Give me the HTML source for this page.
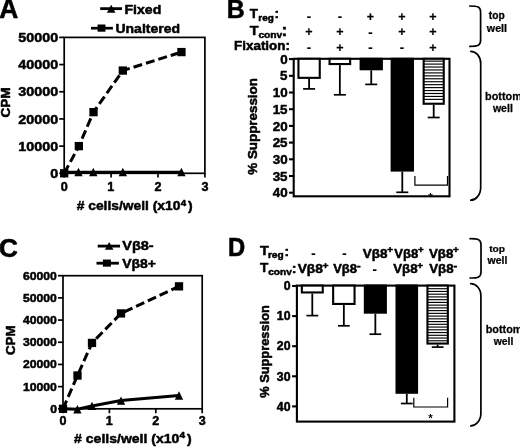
<!DOCTYPE html>
<html><head><meta charset="utf-8"><title>Figure</title>
<style>html,body{margin:0;padding:0;background:#fff;overflow:hidden}svg{display:block}text{font-family:'Liberation Sans', sans-serif;font-weight:bold;fill:#000;stroke-linejoin:round;font-kerning:none}</style>
</head><body>
<svg width="520" height="447" viewBox="0 0 520 447">
<rect width="520" height="447" fill="#fff"/>
<text transform="translate(-0.76,18.20) scale(0.965,1)" font-size="27.33" stroke="#000" stroke-width="0.6">A</text>
<text transform="translate(226.83,18.40) scale(0.958,1)" font-size="26.02" stroke="#000" stroke-width="0.5">B</text>
<text transform="translate(-1.07,256.55) scale(1.023,1)" font-size="25.56" stroke="#000" stroke-width="0.6">C</text>
<text transform="translate(228.01,256.40) scale(0.936,1)" font-size="25.44" stroke="#000" stroke-width="0.6">D</text>
<rect x="64.2" y="37.4" width="140.7" height="135.9" fill="none" stroke="#000" stroke-width="1.7"/>
<line x1="59.2" y1="173.3" x2="64.2" y2="173.3" stroke="#000" stroke-width="1.7" />
<text transform="translate(50.30,177.88) scale(1.080,1)" font-size="13.30" stroke="#000" stroke-width="0.5">0</text>
<line x1="59.2" y1="146.12" x2="64.2" y2="146.12" stroke="#000" stroke-width="1.7" />
<text transform="translate(18.35,150.70) scale(1.080,1)" font-size="13.30" stroke="#000" stroke-width="0.5">10000</text>
<line x1="59.2" y1="118.94000000000001" x2="64.2" y2="118.94000000000001" stroke="#000" stroke-width="1.7" />
<text transform="translate(18.35,123.52) scale(1.080,1)" font-size="13.30" stroke="#000" stroke-width="0.5">20000</text>
<line x1="59.2" y1="91.76" x2="64.2" y2="91.76" stroke="#000" stroke-width="1.7" />
<text transform="translate(18.35,96.33) scale(1.080,1)" font-size="13.30" stroke="#000" stroke-width="0.5">30000</text>
<line x1="59.2" y1="64.58000000000001" x2="64.2" y2="64.58000000000001" stroke="#000" stroke-width="1.7" />
<text transform="translate(18.35,69.16) scale(1.080,1)" font-size="13.30" stroke="#000" stroke-width="0.5">40000</text>
<line x1="59.2" y1="37.400000000000006" x2="64.2" y2="37.400000000000006" stroke="#000" stroke-width="1.7" />
<text transform="translate(18.35,41.98) scale(1.080,1)" font-size="13.30" stroke="#000" stroke-width="0.5">50000</text>
<line x1="64.2" y1="173.3" x2="64.2" y2="177.5" stroke="#000" stroke-width="1.7" />
<text transform="translate(60.71,190.54) scale(1.000,1)" font-size="12.60" stroke="#000" stroke-width="0.5">0</text>
<line x1="111.1" y1="173.3" x2="111.1" y2="177.5" stroke="#000" stroke-width="1.7" />
<text transform="translate(107.37,190.53) scale(1.000,1)" font-size="12.60" stroke="#000" stroke-width="0.5">1</text>
<line x1="158.0" y1="173.3" x2="158.0" y2="177.5" stroke="#000" stroke-width="1.7" />
<text transform="translate(154.53,190.60) scale(1.000,1)" font-size="12.60" stroke="#000" stroke-width="0.5">2</text>
<line x1="204.89999999999998" y1="173.3" x2="204.89999999999998" y2="177.5" stroke="#000" stroke-width="1.7" />
<text transform="translate(201.48,190.53) scale(1.000,1)" font-size="12.60" stroke="#000" stroke-width="0.5">3</text>
<polyline points="64.2,173.3 78.9,146.1 93.5,112.1 122.8,70.6 181.4,52.1" fill="none" stroke="#000" stroke-width="3.0" stroke-dasharray="9 4" stroke-dashoffset="0"/>
<polyline points="64.2,172.3 78.5,172.3 93.3,172.3 122.8,172.3 181.4,172.3" fill="none" stroke="#000" stroke-width="3.0"/>
<rect x="60.05" y="169.15" width="8.3" height="8.3" fill="#000"/>
<rect x="74.71" y="141.97" width="8.3" height="8.3" fill="#000"/>
<rect x="89.36" y="108.00" width="8.3" height="8.3" fill="#000"/>
<rect x="118.67" y="66.41" width="8.3" height="8.3" fill="#000"/>
<rect x="177.30" y="47.93" width="8.3" height="8.3" fill="#000"/>
<polygon points="78.50450000000001,167.84 74.3045,176.14 82.70450000000001,176.14" fill="#000"/>
<polygon points="93.278,167.84 89.078,176.14 97.47800000000001,176.14" fill="#000"/>
<polygon points="122.825,167.84 118.625,176.14 127.025,176.14" fill="#000"/>
<polygon points="181.45,167.84 177.25,176.14 185.64999999999998,176.14" fill="#000"/>
<line x1="100.2" y1="8.65" x2="122" y2="8.65" stroke="#000" stroke-width="2.8" />
<polygon points="111.2,4.80 106.9,12.70 115.5,12.70" fill="#000"/>
<text transform="translate(124.46,13.67) scale(1.080,1)" font-size="13.07" stroke="#000" stroke-width="0.5">Fixed</text>
<line x1="91" y1="28.2" x2="112.9" y2="28.2" stroke="#000" stroke-width="2.7" />
<rect x="97.55" y="24.50" width="7.9" height="7.2" fill="#000"/>
<text transform="translate(115.46,32.98) scale(1.095,1)" font-size="12.80" stroke="#000" stroke-width="0.5">Unaltered</text>
<text transform="translate(9.58,117.56) rotate(-90) scale(1.118,1)" font-size="12.15" stroke="#000" stroke-width="0.5">CPM</text>
<text transform="scale(1.027,1)" stroke="#000" stroke-width="0.5"><tspan x="74.72" y="210.51" font-size="13.46"># cells/well (x10</tspan><tspan x="175.95" y="205.70" font-size="9.45">4</tspan><tspan x="183.18" y="210.51" font-size="13.46">)</tspan></text>
<rect x="63.0" y="275.7" width="139.2" height="133.10000000000002" fill="none" stroke="#000" stroke-width="1.7"/>
<line x1="58.0" y1="408.8" x2="63.0" y2="408.8" stroke="#000" stroke-width="1.7" />
<text transform="translate(50.13,412.83) scale(1.040,1)" font-size="11.70" stroke="#000" stroke-width="0.5">0</text>
<line x1="58.0" y1="386.6166666666667" x2="63.0" y2="386.6166666666667" stroke="#000" stroke-width="1.7" />
<text transform="translate(23.06,390.64) scale(1.040,1)" font-size="11.70" stroke="#000" stroke-width="0.5">10000</text>
<line x1="58.0" y1="364.43333333333334" x2="63.0" y2="364.43333333333334" stroke="#000" stroke-width="1.7" />
<text transform="translate(23.06,368.46) scale(1.040,1)" font-size="11.70" stroke="#000" stroke-width="0.5">20000</text>
<line x1="58.0" y1="342.25" x2="63.0" y2="342.25" stroke="#000" stroke-width="1.7" />
<text transform="translate(23.06,346.27) scale(1.040,1)" font-size="11.70" stroke="#000" stroke-width="0.5">30000</text>
<line x1="58.0" y1="320.06666666666666" x2="63.0" y2="320.06666666666666" stroke="#000" stroke-width="1.7" />
<text transform="translate(23.06,324.09) scale(1.040,1)" font-size="11.70" stroke="#000" stroke-width="0.5">40000</text>
<line x1="58.0" y1="297.8833333333333" x2="63.0" y2="297.8833333333333" stroke="#000" stroke-width="1.7" />
<text transform="translate(23.06,301.91) scale(1.040,1)" font-size="11.70" stroke="#000" stroke-width="0.5">50000</text>
<line x1="58.0" y1="275.7" x2="63.0" y2="275.7" stroke="#000" stroke-width="1.7" />
<text transform="translate(23.06,279.73) scale(1.040,1)" font-size="11.70" stroke="#000" stroke-width="0.5">60000</text>
<line x1="63.0" y1="408.8" x2="63.0" y2="413.3" stroke="#000" stroke-width="1.7" />
<text transform="translate(59.53,424.90) scale(1.000,1)" font-size="12.50" stroke="#000" stroke-width="0.5">0</text>
<line x1="109.4" y1="408.8" x2="109.4" y2="413.3" stroke="#000" stroke-width="1.7" />
<text transform="translate(105.70,424.90) scale(1.000,1)" font-size="12.50" stroke="#000" stroke-width="0.5">1</text>
<line x1="155.8" y1="408.8" x2="155.8" y2="413.3" stroke="#000" stroke-width="1.7" />
<text transform="translate(152.36,424.96) scale(1.000,1)" font-size="12.50" stroke="#000" stroke-width="0.5">2</text>
<line x1="202.2" y1="408.8" x2="202.2" y2="413.3" stroke="#000" stroke-width="1.7" />
<text transform="translate(198.81,424.89) scale(1.000,1)" font-size="12.50" stroke="#000" stroke-width="0.5">3</text>
<polyline points="63.0,408.8 77.5,375.5 92.0,342.9 121.0,313.4 179.0,286.3" fill="none" stroke="#000" stroke-width="3.0" stroke-dasharray="9 4" stroke-dashoffset="0"/>
<polyline points="63.0,408.8 77.4,409.2 92.0,405.9 121.0,400.6 179.0,395.5" fill="none" stroke="#000" stroke-width="3.0"/>
<rect x="58.85" y="404.65" width="8.3" height="8.3" fill="#000"/>
<rect x="73.35" y="371.38" width="8.3" height="8.3" fill="#000"/>
<rect x="87.85" y="338.77" width="8.3" height="8.3" fill="#000"/>
<rect x="116.85" y="309.26" width="8.3" height="8.3" fill="#000"/>
<rect x="174.85" y="282.20" width="8.3" height="8.3" fill="#000"/>
<polygon points="77.384,405.09 73.184,413.39 81.584,413.39" fill="#000"/>
<polygon points="92.0,401.77 87.8,410.07 96.2,410.07" fill="#000"/>
<polygon points="121.0,396.44 116.8,404.74 125.2,404.74" fill="#000"/>
<polygon points="179.0,391.34 174.8,399.64 183.2,399.64" fill="#000"/>
<line x1="97.7" y1="246.1" x2="120" y2="246.1" stroke="#000" stroke-width="2.8" />
<polygon points="109.2,242.10 104.9,249.70 113.5,249.70" fill="#000"/>
<text transform="translate(122.20,250.23) scale(1.129,1)" font-size="12.87" stroke="#000" stroke-width="0.5">Vβ8-</text>
<line x1="96.5" y1="263.2" x2="118.9" y2="263.2" stroke="#000" stroke-width="2.8" />
<rect x="102.90" y="259.55" width="8" height="7.1" fill="#000"/>
<text transform="translate(122.20,267.58) scale(1.067,1)" font-size="13.09" stroke="#000" stroke-width="0.5">Vβ8+</text>
<text transform="translate(14.98,355.05) rotate(-90) scale(1.085,1)" font-size="12.29" stroke="#000" stroke-width="0.5">CPM</text>
<text transform="scale(1.064,1)" stroke="#000" stroke-width="0.5"><tspan x="69.67" y="442.56" font-size="13.20"># cells/well (x10</tspan><tspan x="168.77" y="438.00" font-size="9.45">4</tspan><tspan x="175.85" y="442.56" font-size="13.20">)</tspan></text>
<rect x="293.7" y="58.8" width="155.8" height="137.5" fill="none" stroke="#000" stroke-width="2.1"/>
<line x1="289.0" y1="59.1" x2="293.7" y2="59.1" stroke="#000" stroke-width="2.1" />
<text transform="translate(280.30,63.71) scale(1.000,1)" font-size="13.40" stroke="#000" stroke-width="0.5">0</text>
<line x1="289.0" y1="75.8" x2="293.7" y2="75.8" stroke="#000" stroke-width="2.1" />
<text transform="translate(280.12,80.34) scale(1.000,1)" font-size="13.40" stroke="#000" stroke-width="0.5">5</text>
<line x1="289.0" y1="92.5" x2="293.7" y2="92.5" stroke="#000" stroke-width="2.1" />
<text transform="translate(272.84,97.11) scale(1.000,1)" font-size="13.40" stroke="#000" stroke-width="0.5">10</text>
<line x1="289.0" y1="109.19999999999999" x2="293.7" y2="109.19999999999999" stroke="#000" stroke-width="2.1" />
<text transform="translate(272.67,113.74) scale(1.000,1)" font-size="13.40" stroke="#000" stroke-width="0.5">15</text>
<line x1="289.0" y1="125.9" x2="293.7" y2="125.9" stroke="#000" stroke-width="2.1" />
<text transform="translate(272.84,130.51) scale(1.000,1)" font-size="13.40" stroke="#000" stroke-width="0.5">20</text>
<line x1="289.0" y1="142.6" x2="293.7" y2="142.6" stroke="#000" stroke-width="2.1" />
<text transform="translate(272.67,147.21) scale(1.000,1)" font-size="13.40" stroke="#000" stroke-width="0.5">25</text>
<line x1="289.0" y1="159.29999999999998" x2="293.7" y2="159.29999999999998" stroke="#000" stroke-width="2.1" />
<text transform="translate(272.84,163.90) scale(1.000,1)" font-size="13.40" stroke="#000" stroke-width="0.5">30</text>
<line x1="289.0" y1="176.0" x2="293.7" y2="176.0" stroke="#000" stroke-width="2.1" />
<text transform="translate(272.67,180.60) scale(1.000,1)" font-size="13.40" stroke="#000" stroke-width="0.5">35</text>
<line x1="289.0" y1="192.7" x2="293.7" y2="192.7" stroke="#000" stroke-width="2.1" />
<text transform="translate(272.84,197.31) scale(1.000,1)" font-size="13.40" stroke="#000" stroke-width="0.5">40</text>
<line x1="309.1" y1="78.9" x2="309.1" y2="88.9" stroke="#000" stroke-width="1.8" />
<line x1="303.1" y1="88.9" x2="315.1" y2="88.9" stroke="#000" stroke-width="1.7" />
<rect x="298.45" y="58.8" width="21.30" height="19.05" fill="#fff" stroke="#000" stroke-width="2.1"/>
<line x1="339.85" y1="65.1" x2="339.85" y2="94.8" stroke="#000" stroke-width="1.8" />
<line x1="333.85" y1="94.8" x2="345.85" y2="94.8" stroke="#000" stroke-width="1.7" />
<rect x="329.55" y="58.8" width="20.60" height="5.25" fill="#fff" stroke="#000" stroke-width="2.1"/>
<line x1="371.25" y1="70.3" x2="371.25" y2="84.4" stroke="#000" stroke-width="1.8" />
<line x1="365.25" y1="84.4" x2="377.25" y2="84.4" stroke="#000" stroke-width="1.7" />
<rect x="360.65" y="58.8" width="21.20" height="10.45" fill="#000" stroke="#000" stroke-width="2.1"/>
<line x1="402.3" y1="171.6" x2="402.3" y2="192.3" stroke="#000" stroke-width="1.8" />
<line x1="396.3" y1="192.3" x2="408.3" y2="192.3" stroke="#000" stroke-width="1.7" />
<rect x="391.65" y="58.8" width="21.30" height="111.75" fill="#000" stroke="#000" stroke-width="2.1"/>
<line x1="433.70000000000005" y1="104.8" x2="433.70000000000005" y2="117.5" stroke="#000" stroke-width="1.8" />
<line x1="427.70000000000005" y1="117.5" x2="439.70000000000005" y2="117.5" stroke="#000" stroke-width="1.7" />
<rect x="423.65" y="58.8" width="20.10" height="44.95" fill="#fff" stroke="#000" stroke-width="2.1"/>
<line x1="423.65000000000003" y1="61.15" x2="443.75" y2="61.15" stroke="#000" stroke-width="1.15" />
<line x1="423.65000000000003" y1="64.09" x2="443.75" y2="64.09" stroke="#000" stroke-width="1.15" />
<line x1="423.65000000000003" y1="67.03" x2="443.75" y2="67.03" stroke="#000" stroke-width="1.15" />
<line x1="423.65000000000003" y1="69.97" x2="443.75" y2="69.97" stroke="#000" stroke-width="1.15" />
<line x1="423.65000000000003" y1="72.91" x2="443.75" y2="72.91" stroke="#000" stroke-width="1.15" />
<line x1="423.65000000000003" y1="75.85" x2="443.75" y2="75.85" stroke="#000" stroke-width="1.15" />
<line x1="423.65000000000003" y1="78.79" x2="443.75" y2="78.79" stroke="#000" stroke-width="1.15" />
<line x1="423.65000000000003" y1="81.73" x2="443.75" y2="81.73" stroke="#000" stroke-width="1.15" />
<line x1="423.65000000000003" y1="84.67" x2="443.75" y2="84.67" stroke="#000" stroke-width="1.15" />
<line x1="423.65000000000003" y1="87.61" x2="443.75" y2="87.61" stroke="#000" stroke-width="1.15" />
<line x1="423.65000000000003" y1="90.55" x2="443.75" y2="90.55" stroke="#000" stroke-width="1.15" />
<line x1="423.65000000000003" y1="93.49" x2="443.75" y2="93.49" stroke="#000" stroke-width="1.15" />
<line x1="423.65000000000003" y1="96.43" x2="443.75" y2="96.43" stroke="#000" stroke-width="1.15" />
<line x1="423.65000000000003" y1="99.37" x2="443.75" y2="99.37" stroke="#000" stroke-width="1.15" />
<polyline points="414.9,176 414.9,185.1 447.5,185.1 447.5,176" fill="none" stroke="#000" stroke-width="1.2"/>
<text transform="translate(428.35,200.57) scale(1.000,1)" font-size="11.50" stroke="#000" stroke-width="0">*</text>
<text transform="translate(257.21,174.73) rotate(-90) scale(1.032,1)" font-size="12.98" stroke="#000" stroke-width="0.5">% Suppression</text>
<rect x="296.9" y="285.6" width="157.5" height="136.0" fill="none" stroke="#000" stroke-width="2.1"/>
<line x1="292.09999999999997" y1="286.0" x2="296.9" y2="286.0" stroke="#000" stroke-width="2.1" />
<text transform="translate(283.66,290.23) scale(1.000,1)" font-size="12.30" stroke="#000" stroke-width="0.5">0</text>
<line x1="292.09999999999997" y1="316.1" x2="296.9" y2="316.1" stroke="#000" stroke-width="2.1" />
<text transform="translate(276.82,320.33) scale(1.000,1)" font-size="12.30" stroke="#000" stroke-width="0.5">10</text>
<line x1="292.09999999999997" y1="346.2" x2="296.9" y2="346.2" stroke="#000" stroke-width="2.1" />
<text transform="translate(276.82,350.43) scale(1.000,1)" font-size="12.30" stroke="#000" stroke-width="0.5">20</text>
<line x1="292.09999999999997" y1="376.3" x2="296.9" y2="376.3" stroke="#000" stroke-width="2.1" />
<text transform="translate(276.82,380.53) scale(1.000,1)" font-size="12.30" stroke="#000" stroke-width="0.5">30</text>
<line x1="292.09999999999997" y1="406.4" x2="296.9" y2="406.4" stroke="#000" stroke-width="2.1" />
<text transform="translate(276.82,410.63) scale(1.000,1)" font-size="12.30" stroke="#000" stroke-width="0.5">40</text>
<line x1="312.3" y1="293.5" x2="312.3" y2="315.6" stroke="#000" stroke-width="1.8" />
<line x1="306.40000000000003" y1="315.6" x2="318.2" y2="315.6" stroke="#000" stroke-width="1.7" />
<rect x="301.85" y="285.6" width="20.90" height="6.85" fill="#fff" stroke="#000" stroke-width="2.1"/>
<line x1="343.85" y1="305.0" x2="343.85" y2="325.8" stroke="#000" stroke-width="1.8" />
<line x1="337.95000000000005" y1="325.8" x2="349.75" y2="325.8" stroke="#000" stroke-width="1.7" />
<rect x="333.15" y="285.6" width="21.40" height="18.35" fill="#fff" stroke="#000" stroke-width="2.1"/>
<line x1="375.35" y1="313.7" x2="375.35" y2="334.2" stroke="#000" stroke-width="1.8" />
<line x1="369.45000000000005" y1="334.2" x2="381.25" y2="334.2" stroke="#000" stroke-width="1.7" />
<rect x="364.85" y="285.6" width="21.00" height="27.05" fill="#000" stroke="#000" stroke-width="2.1"/>
<line x1="406.8" y1="393.8" x2="406.8" y2="403.5" stroke="#000" stroke-width="1.8" />
<line x1="400.90000000000003" y1="403.5" x2="412.7" y2="403.5" stroke="#000" stroke-width="1.7" />
<rect x="396.55" y="285.6" width="20.50" height="107.15" fill="#000" stroke="#000" stroke-width="2.1"/>
<line x1="437.65" y1="344.6" x2="437.65" y2="347.1" stroke="#000" stroke-width="1.8" />
<line x1="431.75" y1="347.1" x2="443.54999999999995" y2="347.1" stroke="#000" stroke-width="1.7" />
<rect x="427.45" y="285.6" width="20.40" height="57.95" fill="#fff" stroke="#000" stroke-width="2.1"/>
<line x1="427.45" y1="288.7" x2="447.84999999999997" y2="288.7" stroke="#000" stroke-width="1.15" />
<line x1="427.45" y1="291.44" x2="447.84999999999997" y2="291.44" stroke="#000" stroke-width="1.15" />
<line x1="427.45" y1="294.18" x2="447.84999999999997" y2="294.18" stroke="#000" stroke-width="1.15" />
<line x1="427.45" y1="296.92" x2="447.84999999999997" y2="296.92" stroke="#000" stroke-width="1.15" />
<line x1="427.45" y1="299.66" x2="447.84999999999997" y2="299.66" stroke="#000" stroke-width="1.15" />
<line x1="427.45" y1="302.4" x2="447.84999999999997" y2="302.4" stroke="#000" stroke-width="1.15" />
<line x1="427.45" y1="305.14" x2="447.84999999999997" y2="305.14" stroke="#000" stroke-width="1.15" />
<line x1="427.45" y1="307.88" x2="447.84999999999997" y2="307.88" stroke="#000" stroke-width="1.15" />
<line x1="427.45" y1="310.62" x2="447.84999999999997" y2="310.62" stroke="#000" stroke-width="1.15" />
<line x1="427.45" y1="313.36" x2="447.84999999999997" y2="313.36" stroke="#000" stroke-width="1.15" />
<line x1="427.45" y1="316.1" x2="447.84999999999997" y2="316.1" stroke="#000" stroke-width="1.15" />
<line x1="427.45" y1="318.84" x2="447.84999999999997" y2="318.84" stroke="#000" stroke-width="1.15" />
<line x1="427.45" y1="321.58" x2="447.84999999999997" y2="321.58" stroke="#000" stroke-width="1.15" />
<line x1="427.45" y1="324.32" x2="447.84999999999997" y2="324.32" stroke="#000" stroke-width="1.15" />
<line x1="427.45" y1="327.06" x2="447.84999999999997" y2="327.06" stroke="#000" stroke-width="1.15" />
<line x1="427.45" y1="329.8" x2="447.84999999999997" y2="329.8" stroke="#000" stroke-width="1.15" />
<line x1="427.45" y1="332.54" x2="447.84999999999997" y2="332.54" stroke="#000" stroke-width="1.15" />
<line x1="427.45" y1="335.28" x2="447.84999999999997" y2="335.28" stroke="#000" stroke-width="1.15" />
<line x1="427.45" y1="338.02" x2="447.84999999999997" y2="338.02" stroke="#000" stroke-width="1.15" />
<line x1="427.45" y1="340.76" x2="447.84999999999997" y2="340.76" stroke="#000" stroke-width="1.15" />
<polyline points="413.8,397.8 413.8,407.0 447.6,407.0 447.6,397.8" fill="none" stroke="#000" stroke-width="1.2"/>
<text transform="translate(428.25,422.07) scale(1.000,1)" font-size="11.50" stroke="#000" stroke-width="0">*</text>
<text transform="translate(268.71,397.82) rotate(-90) scale(1.068,1)" font-size="12.02" stroke="#000" stroke-width="0.5">% Suppression</text>
<text transform="scale(1.060,1)" stroke="#000" stroke-width="0.5"><tspan x="235.61" y="18.10" font-size="12.65">T</tspan><tspan x="243.72" y="21.10" font-size="9.45">reg</tspan><tspan x="259.06" y="18.38" font-size="13.00">:</tspan></text>
<text transform="scale(1.100,1)" stroke="#000" stroke-width="0.5"><tspan x="227.13" y="35.30" font-size="13.10">T</tspan><tspan x="234.91" y="37.75" font-size="9.30">conv</tspan><tspan x="255.97" y="35.79" font-size="16.00">:</tspan></text>
<text transform="translate(234.10,50.18) scale(1.089,1)" font-size="12.32" stroke="#000" stroke-width="0.5">Fixation:</text>
<text transform="translate(306.84,20.67) scale(1.000,1)" font-size="13.00" stroke="#000" stroke-width="0.2">-</text>
<text transform="translate(337.64,20.67) scale(1.000,1)" font-size="13.00" stroke="#000" stroke-width="0.2">-</text>
<text transform="translate(366.74,20.76) scale(1.000,1)" font-size="12.50" stroke="#000" stroke-width="0.2">+</text>
<text transform="translate(398.14,20.76) scale(1.000,1)" font-size="12.50" stroke="#000" stroke-width="0.2">+</text>
<text transform="translate(429.14,20.76) scale(1.000,1)" font-size="12.50" stroke="#000" stroke-width="0.2">+</text>
<text transform="translate(305.34,35.56) scale(1.000,1)" font-size="12.50" stroke="#000" stroke-width="0.2">+</text>
<text transform="translate(336.14,35.56) scale(1.000,1)" font-size="12.50" stroke="#000" stroke-width="0.2">+</text>
<text transform="translate(368.24,37.17) scale(1.000,1)" font-size="13.00" stroke="#000" stroke-width="0.2">-</text>
<text transform="translate(398.14,35.56) scale(1.000,1)" font-size="12.50" stroke="#000" stroke-width="0.2">+</text>
<text transform="translate(429.14,35.56) scale(1.000,1)" font-size="12.50" stroke="#000" stroke-width="0.2">+</text>
<text transform="translate(306.84,51.77) scale(1.000,1)" font-size="13.00" stroke="#000" stroke-width="0.2">-</text>
<text transform="translate(336.14,51.76) scale(1.000,1)" font-size="12.50" stroke="#000" stroke-width="0.2">+</text>
<text transform="translate(368.24,51.77) scale(1.000,1)" font-size="13.00" stroke="#000" stroke-width="0.2">-</text>
<text transform="translate(399.64,51.77) scale(1.000,1)" font-size="13.00" stroke="#000" stroke-width="0.2">-</text>
<text transform="translate(429.14,51.76) scale(1.000,1)" font-size="12.50" stroke="#000" stroke-width="0.2">+</text>
<text transform="scale(1.100,1)" stroke="#000" stroke-width="0.5"><tspan x="236.31" y="255.50" font-size="13.10">T</tspan><tspan x="243.58" y="258.15" font-size="9.20">reg</tspan><tspan x="258.54" y="255.88" font-size="12.60">:</tspan></text>
<text transform="scale(1.070,1)" stroke="#000" stroke-width="0.5"><tspan x="242.94" y="271.90" font-size="12.70">T</tspan><tspan x="250.66" y="274.70" font-size="9.47">conv</tspan><tspan x="272.63" y="272.83" font-size="13.40">:</tspan></text>
<text transform="translate(311.24,257.77) scale(1.000,1)" font-size="13.00" stroke="#000" stroke-width="0.2">-</text>
<text transform="translate(342.34,257.77) scale(1.000,1)" font-size="13.00" stroke="#000" stroke-width="0.2">-</text>
<text transform="scale(1.066,1)" stroke="#000" stroke-width="0.5"><tspan x="340.37" y="257.80" font-size="12.65">Vβ8</tspan><tspan x="363.26" y="253.49" font-size="9.30">+</tspan></text>
<text transform="scale(1.035,1)" stroke="#000" stroke-width="0.5"><tspan x="380.95" y="257.80" font-size="12.65">Vβ8</tspan><tspan x="403.93" y="253.49" font-size="9.30">+</tspan></text>
<text transform="scale(1.052,1)" stroke="#000" stroke-width="0.5"><tspan x="407.74" y="257.80" font-size="12.65">Vβ8</tspan><tspan x="430.66" y="253.49" font-size="9.30">+</tspan></text>
<text transform="scale(1.113,1)" stroke="#000" stroke-width="0.5"><tspan x="267.43" y="273.20" font-size="12.35">Vβ8</tspan><tspan x="289.67" y="269.09" font-size="9.30">+</tspan></text>
<text transform="scale(1.050,1)" stroke="#000" stroke-width="0.5"><tspan x="317.30" y="273.20" font-size="12.35">Vβ8</tspan><tspan x="339.93" y="269.32" font-size="10.50">-</tspan></text>
<text transform="translate(372.44,274.47) scale(1.000,1)" font-size="13.00" stroke="#000" stroke-width="0.2">-</text>
<text transform="scale(1.065,1)" stroke="#000" stroke-width="0.5"><tspan x="369.24" y="273.00" font-size="12.50">Vβ8</tspan><tspan x="391.87" y="268.79" font-size="9.30">+</tspan></text>
<text transform="scale(1.065,1)" stroke="#000" stroke-width="0.5"><tspan x="403.05" y="273.00" font-size="12.50">Vβ8</tspan><tspan x="425.91" y="269.02" font-size="10.50">-</tspan></text>
<path d="M469.8,6.0 C477.90,6.0 480.6,6.90 480.6,12.0 L480.6,40.3 C480.6,45.40 477.90,46.3 469.8,46.3" fill="none" stroke="#000" stroke-width="1.7" stroke-linecap="round"/>
<path d="M470.8,51.3 C475.75,51.3 480.7,56.10 480.7,63.3 L480.7,187.2 C480.7,195.00 475.75,200.2 470.8,200.2" fill="none" stroke="#000" stroke-width="1.7" stroke-linecap="round"/>
<path d="M470.1,238.7 C478.27,238.7 481.0,239.60 481.0,244.7 L481.0,272 C481.0,277.10 478.27,278 470.1,278" fill="none" stroke="#000" stroke-width="1.7" stroke-linecap="round"/>
<path d="M470.8,283.7 C475.85,283.7 480.9,288.50 480.9,295.7 L480.9,412.9 C480.9,420.70 475.85,425.9 470.8,425.9" fill="none" stroke="#000" stroke-width="1.7" stroke-linecap="round"/>
<text transform="translate(488.77,19.39) scale(1.008,1)" font-size="10.18" stroke="#000" stroke-width="0.25">top</text>
<text transform="translate(486.83,31.80) scale(1.021,1)" font-size="10.49" stroke="#000" stroke-width="0.25">well</text>
<text transform="translate(485.08,100.19) scale(0.975,1)" font-size="11.17" stroke="#000" stroke-width="0.25">bottom</text>
<text transform="translate(492.93,111.60) scale(1.032,1)" font-size="10.21" stroke="#000" stroke-width="0.25">well</text>
<text transform="translate(489.18,251.85) scale(1.031,1)" font-size="9.89" stroke="#000" stroke-width="0.25">top</text>
<text transform="translate(487.53,264.20) scale(1.027,1)" font-size="10.21" stroke="#000" stroke-width="0.25">well</text>
<text transform="translate(485.68,332.59) scale(1.012,1)" font-size="10.76" stroke="#000" stroke-width="0.25">bottom</text>
<text transform="translate(493.63,344.60) scale(0.982,1)" font-size="10.62" stroke="#000" stroke-width="0.25">well</text>
</svg></body></html>
